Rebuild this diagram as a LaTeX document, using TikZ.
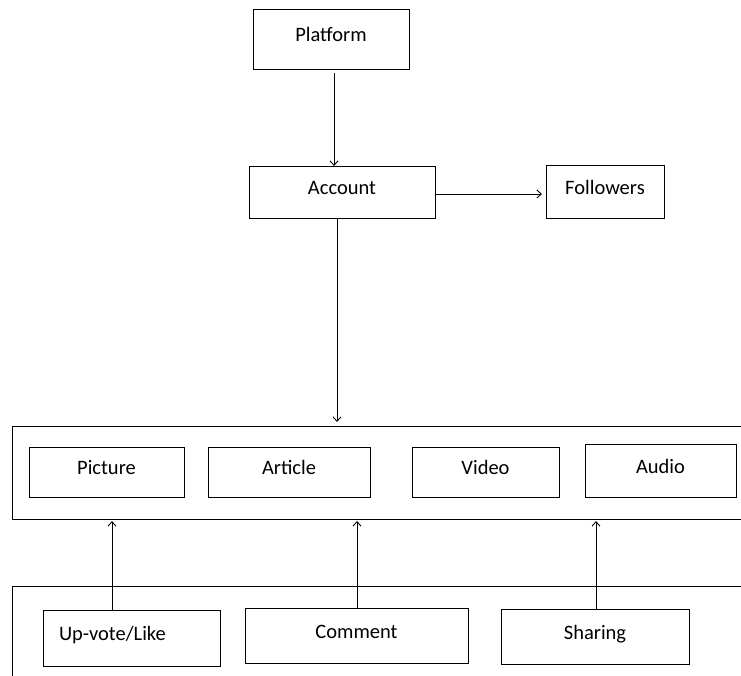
\documentclass[tikz,border=0pt]{standalone}
\usepackage{fontspec}
\setmainfont{Carlito}
\usetikzlibrary{arrows.meta}
\begin{document}
\begin{tikzpicture}[x=1pt,y=1pt,
  box/.style={draw=black, line width=0.9pt, inner sep=0pt, outer sep=0pt,
    font=\fontsize{20.5}{24}\selectfont, text height=10pt, text depth=5pt},
  frame/.style={draw=black, line width=0.9pt, inner sep=0pt, outer sep=0pt},
  conn/.style={draw=black, line width=0.9pt, -{Straight Barb[length=4.5pt,width=8pt]}}
]
\useasboundingbox (0,0) rectangle (741,-675);
\clip (0,0) rectangle (741,-675);
\fill[white] (0,0) rectangle (741,-675);

% top boxes
\node[box, minimum width=156, minimum height=60] (plat) at (331,-39) {Platform};
\node[box, minimum width=186, minimum height=52] (acc) at (342,-192) {Account};
\node[box, minimum width=118, minimum height=53] (fol) at (605,-191.5) {Followers};

% content container
\node[frame, minimum width=758, minimum height=93] (cont) at (391,-472.5) {};
\node[box, minimum width=155, minimum height=50] (pic) at (106.5,-472) {Picture};
\node[box, minimum width=162, minimum height=50] (art) at (289,-472) {Article};
\node[box, minimum width=147, minimum height=50] (vid) at (485.5,-472) {Video};
\node[box, minimum width=151, minimum height=53] (aud) at (660.5,-470.5) {Audio};

% interaction container
\node[frame, minimum width=768, minimum height=114] (inter) at (396,-643) {};
\node[box, minimum width=177, minimum height=56, text width=145pt, align=left, inner xsep=16pt] (up) at (131.5,-638) {Up-vote/Like};
\node[box, minimum width=223, minimum height=55] (com) at (356.5,-635.5) {Comment};
\node[box, minimum width=188, minimum height=55] (sha) at (595,-636.5) {Sharing};

% connector x positions
\coordinate (x1) at (334,0);
\coordinate (x2) at (337,0);
\coordinate (x3) at (112,0);
\coordinate (x4) at (357,0);
\coordinate (x5) at (596,0);
\coordinate (y1) at (0,-194);

\draw[conn, shorten <=4pt] (plat.south -| x1) -- (acc.north -| x1);
\draw[conn, shorten >=4pt] (acc.east |- y1) -- (fol.west |- y1);
\draw[conn, shorten >=4pt] (acc.south -| x2) -- (cont.north -| x2);
\draw[conn, shorten >=2pt] (up.north -| x3) -- (cont.south -| x3);
\draw[conn, shorten >=2pt] (com.north -| x4) -- (cont.south -| x4);
\draw[conn, shorten >=2pt] (sha.north -| x5) -- (cont.south -| x5);
\end{tikzpicture}
\end{document}
